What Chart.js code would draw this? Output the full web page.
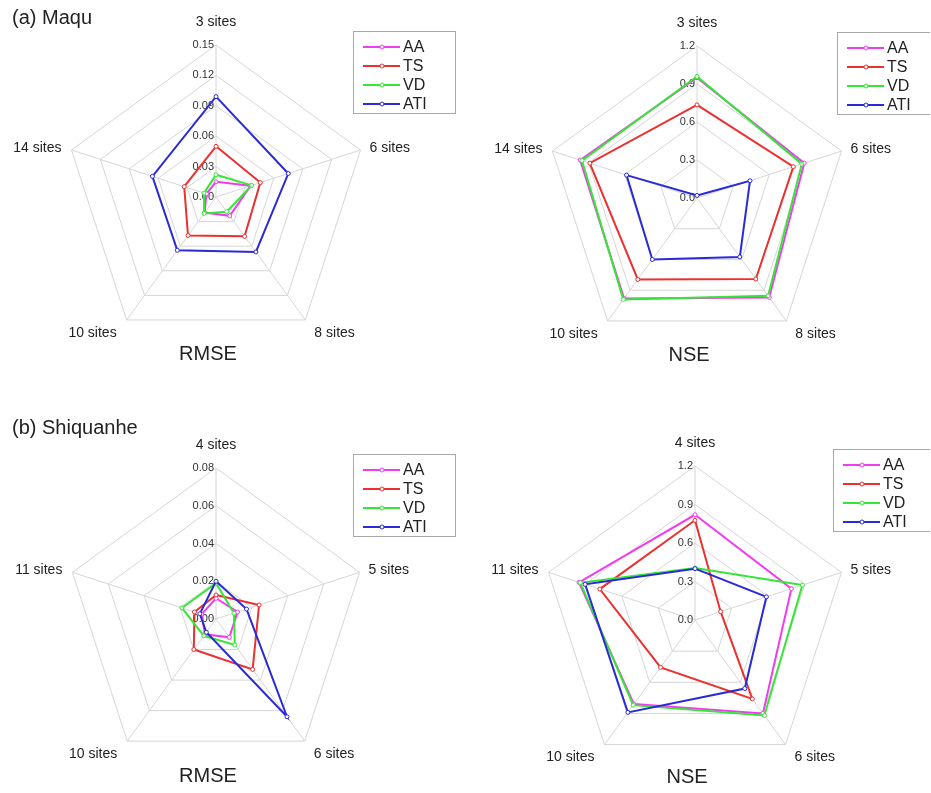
<!DOCTYPE html>
<html>
<head>
<meta charset="utf-8">
<title>Radar charts</title>
<script src="https://cdn.jsdelivr.net/npm/chart.js@4.4.1/dist/chart.umd.min.js"></script>
<style>
  body { margin: 0; background: #fff; font-family: "Liberation Sans", Arial, sans-serif; }
  #wrap { position: relative; width: 931px; height: 793px; overflow: hidden; }
  .panel { position: absolute; width: 465px; height: 396px; }
  .tag { position: absolute; left: 12px; font-size: 20px; line-height: 20px; color: #222; }
</style>
</head>
<body>
<div id="wrap">
  <div class="panel" style="left:0;top:0"><canvas id="c1" width="465" height="396"></canvas></div>
  <div class="panel" style="left:465px;top:0"><canvas id="c2" width="465" height="396"></canvas></div>
  <div class="panel" style="left:0;top:397px"><canvas id="c3" width="465" height="396"></canvas></div>
  <div class="panel" style="left:465px;top:397px"><canvas id="c4" width="465" height="396"></canvas></div>
  <div class="tag" style="top:7px">(a) Maqu</div>
  <div class="tag" style="top:417px">(b) Shiquanhe</div>
</div>
<script>
// series names + colours
const seriesNames = ['AA', 'TS', 'VD', 'ATI'];
const seriesColors = ['#f03cf0', '#ec2f2f', '#35e635', '#2a2ad6'];

// (a) Maqu
const maquSites = ['3 sites', '6 sites', '8 sites', '10 sites', '14 sites'];
const maquRmseAA  = [0.015, 0.036, 0.023, 0.019, 0.010];
const maquRmseTS  = [0.050, 0.046, 0.048, 0.047, 0.033];
const maquRmseVD  = [0.022, 0.037, 0.018, 0.020, 0.0125];
const maquRmseATI = [0.099, 0.075, 0.067, 0.065, 0.066];

const maquNseAA  = [0.95, 0.89, 0.97, 0.98, 0.97];
const maquNseTS  = [0.735, 0.80, 0.79, 0.795, 0.89];
const maquNseVD  = [0.96, 0.87, 0.955, 0.99, 0.955];
const maquNseATI = [0.02, 0.44, 0.575, 0.60, 0.585];

// (b) Shiquanhe
const shqSites = ['4 sites', '5 sites', '6 sites', '10 sites', '11 sites'];
const shqRmseAA  = [0.011, 0.012, 0.012, 0.010, 0.008];
const shqRmseTS  = [0.0127, 0.024, 0.033, 0.020, 0.012];
const shqRmseVD  = [0.019, 0.010, 0.017, 0.011, 0.019];
const shqRmseATI = [0.020, 0.017, 0.064, 0.0087, 0.009];

const shqNseAA  = [0.82, 0.79, 0.90, 0.81, 0.95];
const shqNseTS  = [0.777, 0.21, 0.76, 0.456, 0.78];
const shqNseVD  = [0.405, 0.88, 0.92, 0.82, 0.94];
const shqNseATI = [0.40, 0.585, 0.66, 0.89, 0.90];

const FONT = '"Liberation Sans", Arial, sans-serif';

// tick labels, point labels, title and boxed legend
const radarDecor = {
  id: 'radarDecor',
  beforeDatasetsDraw(chart, args, opts) {
    const s = chart.scales.r;
    const ctx = chart.ctx;
    ctx.save();
    ctx.font = '11px ' + FONT;
    ctx.fillStyle = '#333';
    ctx.textAlign = 'right';
    ctx.textBaseline = 'middle';
    s.ticks.forEach(t => {
      const d = s.getDistanceFromCenterForValue(t.value);
      ctx.fillText(t.value.toFixed(opts.digits), s.xCenter - 2, s.yCenter - d);
    });
    ctx.restore();
  },
  afterDraw(chart, args, opts) {
    const s = chart.scales.r;
    const ctx = chart.ctx;
    ctx.save();
    ctx.font = '14px ' + FONT;
    ctx.fillStyle = '#222';
    ctx.textBaseline = 'middle';
    chart.data.labels.forEach((lab, i) => {
      const p = s.getPointPositionForValue(i, s.max);
      const dx = p.x - s.xCenter, dy = p.y - s.yCenter;
      let x = p.x, y = p.y;
      if (Math.abs(dx) < 1) {
        ctx.textAlign = 'center';
        y -= 23;
      } else {
        ctx.textAlign = dx > 0 ? 'left' : 'right';
        x += dx > 0 ? 9 : -10;
        y += dy > 0 ? 13 : -2;
      }
      ctx.fillText(lab, x, y);
    });

    ctx.font = '20px ' + FONT;
    ctx.textAlign = 'center';
    ctx.fillText(opts.title, s.xCenter - 8, s.yCenter + 157);

    // legend box
    const lx = opts.legendX, ly = opts.legendY;
    ctx.strokeStyle = '#a8a8a8';
    ctx.lineWidth = 1;
    ctx.strokeRect(lx + 0.5, ly + 0.5, 102, 82);
    ctx.font = '16px ' + FONT;
    ctx.textAlign = 'left';
    chart.data.datasets.forEach((ds, i) => {
      const yy = ly + 16 + i * 19;
      ctx.strokeStyle = ds.borderColor;
      ctx.lineWidth = 2;
      ctx.beginPath();
      ctx.moveTo(lx + 10, yy);
      ctx.lineTo(lx + 47, yy);
      ctx.stroke();
      ctx.lineWidth = 1;
      ctx.fillStyle = '#fff';
      ctx.beginPath();
      ctx.arc(lx + 29, yy, 2, 0, Math.PI * 2);
      ctx.fill();
      ctx.stroke();
      ctx.fillStyle = '#222';
      ctx.fillText(ds.label, lx + 50, yy + 1);
    });
    ctx.restore();
  }
};

function makeRadar(id, labels, series, max, step, digits, title, pad, legendX, legendY) {
  const datasets = series.map((vals, i) => ({
    label: seriesNames[i],
    data: vals,
    borderColor: seriesColors[i],
    backgroundColor: 'transparent',
    borderWidth: 2,
    fill: false,
    pointRadius: 2,
    pointBorderWidth: 1,
    pointBorderColor: seriesColors[i],
    pointBackgroundColor: '#fff',
    order: 4 - i
  }));
  new Chart(document.getElementById(id), {
    type: 'radar',
    data: { labels: labels, datasets: datasets },
    options: {
      responsive: false,
      animation: false,
      layout: { padding: pad },
      plugins: {
        legend: { display: false },
        tooltip: { enabled: false },
        radarDecor: { title: title, digits: digits, legendX: legendX, legendY: legendY }
      },
      scales: {
        r: {
          min: 0,
          max: max,
          ticks: { display: false, stepSize: step },
          pointLabels: { display: false },
          grid: { color: '#d6d6d6', lineWidth: 1 },
          angleLines: { color: '#d6d6d6', lineWidth: 1 }
        }
      }
    },
    plugins: [radarDecor]
  });
}

makeRadar('c1', maquSites, [maquRmseAA, maquRmseTS, maquRmseVD, maquRmseATI],
  0.15, 0.03, 2, 'RMSE', { left: 64, top: 45, right: 97, bottom: 47 }, 353, 31);
makeRadar('c2', maquSites, [maquNseAA, maquNseTS, maquNseVD, maquNseATI],
  1.2, 0.3, 1, 'NSE', { left: 80, top: 46, right: 81, bottom: 46 }, 372, 32);
makeRadar('c3', shqSites, [shqRmseAA, shqRmseTS, shqRmseVD, shqRmseATI],
  0.08, 0.02, 2, 'RMSE', { left: 65, top: 71, right: 97, bottom: 22 }, 353, 57);
makeRadar('c4', shqSites, [shqNseAA, shqNseTS, shqNseVD, shqNseATI],
  1.2, 0.3, 1, 'NSE', { left: 75, top: 69, right: 80, bottom: 19 }, 368, 52);
</script>
</body>
</html>
